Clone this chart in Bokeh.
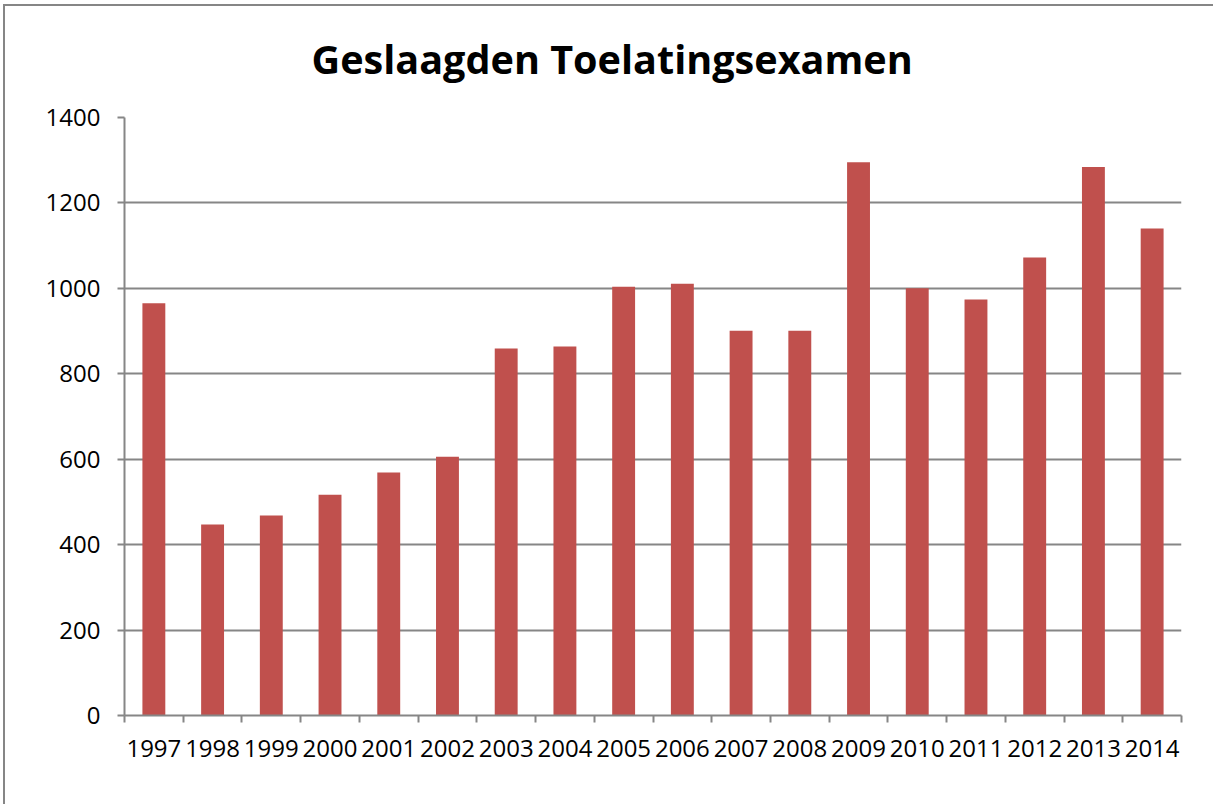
from bokeh.plotting import figure
from bokeh.models import FixedTicker, Range1d, Title
from bokeh.embed import file_html
from bokeh.resources import INLINE

years = [1997, 1998, 1999, 2000, 2001, 2002, 2003, 2004, 2005, 2006,
         2007, 2008, 2009, 2010, 2011, 2012, 2013, 2014]
passed = [965, 447, 468, 517, 569, 606, 859, 864, 1004, 1011,
          901, 901, 1295, 1000, 974, 1072, 1284, 1140]
y_ticks = [0, 200, 400, 600, 800, 1000, 1200, 1400]

GRAY = "#868686"
FONT = "Open Sans"

p = figure(width=1213, height=804, output_backend="svg", toolbar_location=None,
           x_range=Range1d(years[0] - 0.5, years[-1] + 0.5),
           y_range=Range1d(0, 1400),
           min_border_left=124, min_border_right=32,
           min_border_top=117, min_border_bottom=89)

# outer chart border (left and top edges only) drawn behind a transparent border area
p.styles = {"box-shadow": "inset 3px 4px 0 0 white, inset 5px 6px 0 0 #868686"}
p.border_fill_color = None
p.background_fill_color = "white"

t = Title(text="Geslaagden Toelatingsexamen", align="left", vertical_align="top",
          text_font=FONT, text_font_size="39.6px", text_font_style="bold",
          text_color="black", offset=187, standoff=60)
p.add_layout(t, "above")

p.vbar(x=years, top=passed, width=0.39, fill_color="#C0504D", line_color=None)

p.outline_line_color = None

# x axis: labels at centres, ticks at boundaries
bounds = [y - 0.5 for y in years] + [years[-1] + 0.5]
p.xaxis.ticker = FixedTicker(ticks=years, minor_ticks=bounds)
p.xaxis.major_label_overrides = {y: str(y) for y in years}
p.xaxis.major_tick_out = 0
p.xaxis.major_tick_in = 0
p.xaxis.minor_tick_out = 7
p.xaxis.minor_tick_in = 0
p.xaxis.minor_tick_line_color = GRAY
p.xaxis.minor_tick_line_width = 2
p.xaxis.axis_line_color = GRAY
p.xaxis.axis_line_width = 2
p.xaxis.major_label_standoff = 17
p.xaxis.major_label_text_font = FONT
p.xaxis.major_label_text_font_size = "24px"
p.xaxis.major_label_text_color = "black"
p.xgrid.grid_line_color = None

p.yaxis.ticker = FixedTicker(ticks=y_ticks)
p.yaxis.major_tick_out = 7
p.yaxis.major_tick_in = 0
p.yaxis.minor_tick_line_color = None
p.yaxis.major_tick_line_color = GRAY
p.yaxis.major_tick_line_width = 2
p.yaxis.axis_line_color = GRAY
p.yaxis.axis_line_width = 2
p.yaxis.major_label_standoff = 17
p.yaxis.major_label_text_font = FONT
p.yaxis.major_label_text_font_size = "24px"
p.yaxis.major_label_text_color = "black"
p.ygrid.grid_line_color = GRAY
p.ygrid.grid_line_width = 2

open("out.html", "w").write(file_html(p, INLINE))
